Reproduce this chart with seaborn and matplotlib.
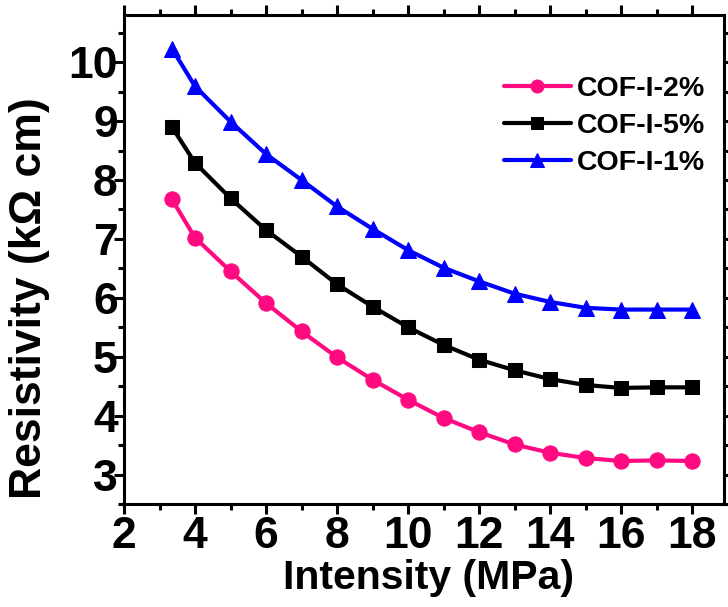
import matplotlib
matplotlib.use("Agg")
import matplotlib.pyplot as plt
import seaborn as sns
import pandas as pd
from matplotlib.ticker import MultipleLocator

x_vals = [3.35, 4, 5, 6, 7, 8, 9, 10, 11, 12, 13, 14, 15, 16, 17, 18]
cof_2 = [7.67, 7.02, 6.45, 5.91, 5.43, 4.99, 4.61, 4.27, 3.96, 3.72, 3.51, 3.37, 3.28, 3.23, 3.24, 3.23]
cof_5 = [8.90, 8.29, 7.69, 7.15, 6.70, 6.23, 5.85, 5.50, 5.20, 4.95, 4.77, 4.62, 4.52, 4.47, 4.48, 4.48]
cof_1 = [10.23, 9.59, 8.99, 8.44, 8.00, 7.55, 7.17, 6.81, 6.51, 6.28, 6.07, 5.93, 5.83, 5.80, 5.80, 5.80]
series_names = ["COF-I-2%", "COF-I-5%", "COF-I-1%"]

sns.set_style("ticks")
plt.rcParams["font.family"] = ["Liberation Sans", "DejaVu Sans"]
plt.rcParams["font.weight"] = "bold"
plt.rcParams["text.color"] = "black"
plt.rcParams["axes.labelcolor"] = "black"
plt.rcParams["xtick.color"] = "black"
plt.rcParams["ytick.color"] = "black"

fig = plt.figure(figsize=(7.28, 6.07), dpi=100)
ax = fig.add_axes([124 / 728, 1 - 504 / 607, 600 / 728, 489 / 607])

styles = [("#FF0A80", "o", 11), ("black", "s", 9.5), ("#0000FF", "^", 12)]
for name, vals, (c, m, ms) in zip(series_names, [cof_2, cof_5, cof_1], styles):
    df = pd.DataFrame({"x": x_vals, "y": vals})
    sns.lineplot(data=df, x="x", y="y", ax=ax, color=c, marker=m, markersize=ms,
                 markeredgecolor=c, linewidth=3, label=name)

ax.set_xlim(2, 18.9)
ax.set_ylim(2.5, 10.8)
ax.set_xticks([2, 4, 6, 8, 10, 12, 14, 16, 18])
ax.xaxis.set_minor_locator(MultipleLocator(1))
ax.yaxis.set_major_locator(MultipleLocator(1))
ax.yaxis.set_minor_locator(MultipleLocator(0.5))

for s in ax.spines.values():
    s.set_linewidth(2.2)
    s.set_visible(True)
    s.set_color("black")

ax.tick_params(which="major", direction="out", length=7, width=2.2,
               top=True, right=True, colors="black", labelcolor="black")
ax.tick_params(which="minor", direction="out", length=4.5, width=2.2,
               top=True, right=True)
ax.tick_params(axis="x", which="major", pad=2)
ax.tick_params(axis="y", which="major", pad=-2.5)
ax.tick_params(axis="x", which="both", labeltop=False)
ax.tick_params(axis="y", which="both", labelright=False)
for lab in ax.get_xticklabels() + ax.get_yticklabels():
    lab.set_fontweight("bold")
    lab.set_fontsize(32)
    lab.set_color("black")

ax.set_xlabel("Intensity (MPa)", fontsize=29.5, fontweight="bold", labelpad=0, color="black")
ax.xaxis.set_label_coords(0.507, -0.112)
ax.xaxis.label.set_va("top")
ax.set_ylabel("Resistivity (kΩ cm)", fontsize=32, fontweight="bold", color="black")
ax.yaxis.set_label_coords(-0.123, 0.42)

leg = ax.legend(loc="upper left", bbox_to_anchor=(0.633, 0.875), frameon=False,
                prop={"weight": "bold", "size": 20.5},
                handlelength=2.35, handletextpad=0.2, markerscale=0.85,
                labelspacing=0.38, borderaxespad=0, borderpad=0)
for t in leg.get_texts():
    t.set_color("black")

fig.savefig("out.png", dpi=100)
